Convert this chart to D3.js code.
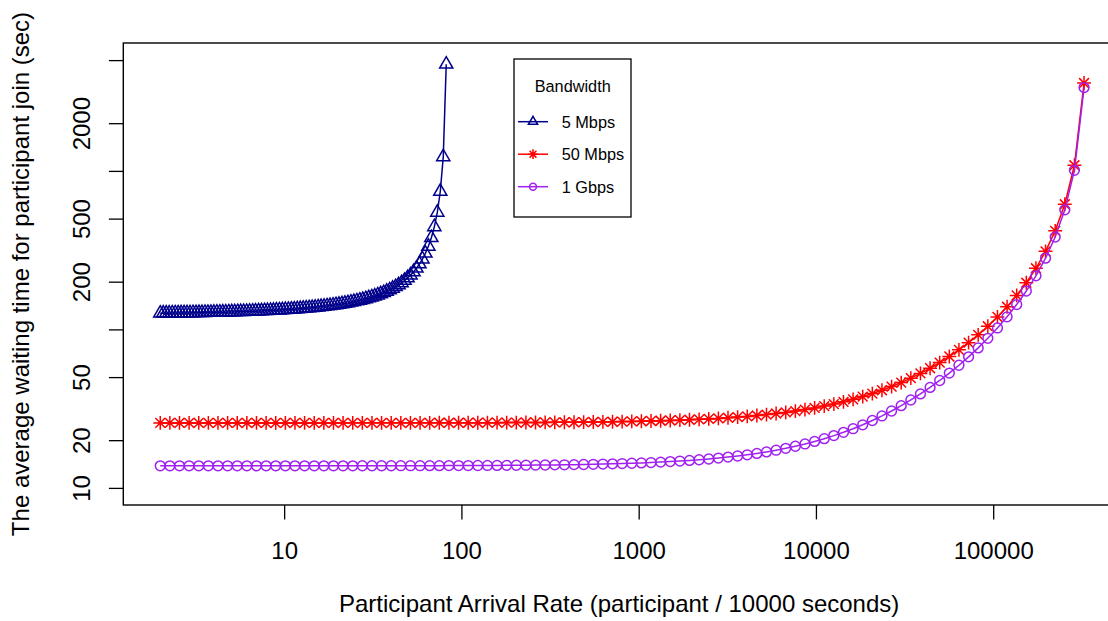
<!DOCTYPE html>
<html>
<head>
<meta charset="utf-8">
<script src="https://cdn.jsdelivr.net/npm/d3@7"></script>
<style>
  body { margin: 0; background: #fff; }
  text { font-family: "Liberation Sans", Arial, Helvetica, sans-serif; fill: #000; }
</style>
</head>
<body>
<div id="chart"></div>
<script>
// Arrival rates used for the 5 Mbps run
const xSlow = [2, 2.079, 2.161, 2.246, 2.335, 2.427, 2.523, 2.622, 2.726, 2.833,
  2.945, 3.061, 3.182, 3.308, 3.438, 3.574, 3.715, 3.861, 4.014, 4.172,
  4.337, 4.508, 4.685, 4.870, 5.062, 5.262, 5.470, 5.686, 5.910, 6.143,
  6.386, 6.637, 6.899, 7.172, 7.454, 7.749, 8.054, 8.372, 8.702, 9.046,
  9.403, 9.774, 10.16, 10.56, 10.98, 11.41, 11.86, 12.33, 12.81, 13.32,
  13.85, 14.39, 14.96, 15.55, 16.16, 16.80, 17.46, 18.15, 18.87, 19.61,
  20.39, 21.19, 22.03, 22.90, 23.80, 24.74, 25.72, 26.73, 27.79, 28.88,
  30.02, 31.21, 32.44, 33.72, 35.05, 36.43, 37.87, 39.36, 40.92, 42.53,
  44.21, 45.95, 47.76, 49.65, 51.61, 53.64, 55.76, 57.96, 60.25, 62.63,
  65.10, 67.67, 70.34, 73.11, 76.00, 78.99, 82.11];
const y5M = [126.4, 126.5, 126.5, 126.6, 126.7, 126.7, 126.8, 126.9, 127.0, 127.0,
  127.1, 127.2, 127.3, 127.4, 127.5, 127.6, 127.7, 127.8, 127.9, 128.1,
  128.2, 128.3, 128.5, 128.6, 128.8, 128.9, 129.1, 129.3, 129.4, 129.6,
  129.8, 130.0, 130.2, 130.5, 130.7, 131.0, 131.2, 131.5, 131.8, 132.1,
  132.4, 132.7, 133.1, 133.4, 133.8, 134.2, 134.6, 135.1, 135.6, 136.1,
  136.6, 137.1, 137.7, 138.3, 139.0, 139.7, 140.4, 141.2, 142.0, 142.9,
  143.8, 144.8, 145.9, 147.0, 148.3, 149.6, 151.0, 152.5, 154.1, 155.9,
  157.8, 159.9, 162.1, 164.6, 167.3, 170.2, 173.5, 177.1, 181.2, 185.7,
  190.9, 196.6, 203.3, 211.0, 219.9, 230.4, 243.1, 258.5, 277.6, 302.0,
  334.2, 378.5, 443.5, 547.3, 741.5, 1226, 4704];

// Arrival rates shared by the 50 Mbps and 1 Gbps runs
const xFast = [2, 2.266, 2.568, 2.910, 3.297, 3.736, 4.234, 4.797, 5.437, 6.161,
  6.981, 7.911, 8.963, 10.16, 11.51, 13.04, 14.78, 16.75, 18.98, 21.50,
  24.37, 27.61, 31.29, 35.45, 40.17, 45.52, 51.58, 58.45, 66.24, 75.05,
  85.05, 96.37, 109.2, 123.7, 140.2, 158.9, 180.0, 204.0, 231.2, 261.9,
  296.8, 336.3, 381.1, 431.8, 489.3, 554.5, 628.3, 712.0, 806.8, 914.2,
  1036, 1174, 1330, 1507, 1708, 1935, 2193, 2485, 2816, 3191,
  3616, 4097, 4643, 5261, 5962, 6755, 7655, 8674, 9829, 11138,
  12621, 14302, 16206, 18364, 20809, 23580, 26719, 30277, 34309, 38877,
  44053, 49919, 56566, 64097, 72632, 82303, 93262, 105680, 119750, 135690,
  153760, 174230, 197430, 223720, 253510, 287260, 325510];
const y50M = [25.70, 25.70, 25.70, 25.70, 25.70, 25.70, 25.70, 25.70, 25.70, 25.70,
  25.70, 25.70, 25.71, 25.71, 25.71, 25.71, 25.71, 25.71, 25.71, 25.71,
  25.72, 25.72, 25.72, 25.72, 25.72, 25.73, 25.73, 25.74, 25.74, 25.75,
  25.75, 25.76, 25.77, 25.78, 25.79, 25.80, 25.81, 25.83, 25.84, 25.86,
  25.88, 25.91, 25.94, 25.97, 26.00, 26.04, 26.09, 26.14, 26.20, 26.27,
  26.34, 26.43, 26.52, 26.63, 26.76, 26.90, 27.06, 27.25, 27.45, 27.69,
  27.96, 28.26, 28.61, 29.00, 29.45, 29.95, 30.53, 31.19, 31.95, 32.81,
  33.79, 34.91, 36.20, 37.67, 39.37, 41.33, 43.58, 46.19, 49.22, 52.75,
  56.88, 61.74, 67.47, 74.31, 82.51, 92.43, 104.6, 119.8, 138.9, 163.8,
  196.9, 243.1, 310.7, 418.6, 615.9, 1085, 3583];
const y1G = [13.77, 13.77, 13.77, 13.77, 13.77, 13.77, 13.77, 13.77, 13.77, 13.77,
  13.77, 13.77, 13.78, 13.78, 13.78, 13.78, 13.78, 13.78, 13.78, 13.78,
  13.78, 13.79, 13.79, 13.79, 13.79, 13.80, 13.80, 13.80, 13.81, 13.81,
  13.82, 13.83, 13.83, 13.84, 13.85, 13.86, 13.87, 13.89, 13.90, 13.92,
  13.94, 13.97, 13.99, 14.02, 14.05, 14.09, 14.14, 14.18, 14.24, 14.30,
  14.37, 14.45, 14.54, 14.65, 14.77, 14.90, 15.05, 15.22, 15.42, 15.64,
  15.89, 16.17, 16.50, 16.87, 17.29, 17.76, 18.31, 18.93, 19.64, 20.44,
  21.37, 22.42, 23.63, 25.01, 26.61, 28.44, 30.56, 33.01, 35.86, 39.17,
  43.05, 47.61, 52.99, 59.41, 67.11, 76.43, 87.87, 102.1, 120.1, 143.5,
  174.6, 217.9, 281.4, 382.7, 568.0, 1009, 3354];

const seriesNames = ["5 Mbps", "50 Mbps", "1 Gbps"];
const legendTitle = "Bandwidth";
const xTicks = [10, 100, 1000, 10000, 100000];
const yTicks = [10, 20, 50, 100, 200, 500, 1000, 2000, 5000];
// R drops the labels that would collide, so some ticks stay blank
const yTickLabels = ["10", "20", "50", "", "200", "500", "", "2000", ""];
const yLimits = [10, 5000];
const xTitle = "Participant Arrival Rate (participant / 10000 seconds)";
const yTitle = "The average waiting time for participant join (sec)";

const width = 1108;
const height = 621;
const box = {left: 123.3, top: 43, right: 1121, bottom: 505};
const tickLen = 14.4;
const r0 = 4.9; // symbol radius at cex = 1

// log axis padded by 4% on each side, like R's default xaxs = "r"
function padLog(lo, hi) {
  const a = Math.log10(lo), b = Math.log10(hi), pad = (b - a) * 0.04;
  return [Math.pow(10, a - pad), Math.pow(10, b + pad)];
}

const x = d3.scaleLog()
    .domain(padLog(d3.min(xFast), d3.max(xFast)))
    .range([box.left, box.right]);
const y = d3.scaleLog()
    .domain(padLog(yLimits[0], yLimits[1]))
    .range([box.bottom, box.top]);

// R plotting symbols: pch 2 (triangle), pch 8 (asterisk), pch 1 (circle)
function symbol(shape, s) {
  if (shape === "triangle") {
    const r = 1.5551 * s, xc = 1.3468 * s, yc = 0.7776 * s;
    return `M0,${-r}L${xc},${yc}L${-xc},${yc}Z`;
  }
  if (shape === "asterisk") {
    const a = Math.SQRT2 * s, b = s;
    return `M${-a},0H${a}M0,${-a}V${a}M${-b},${-b}L${b},${b}M${-b},${b}L${b},${-b}`;
  }
  return `M${s},0A${s},${s} 0 1,1 ${-s},0A${s},${s} 0 1,1 ${s},0Z`;
}

const series = [
  {name: seriesNames[0], xs: xSlow, ys: y5M, color: "#00008B", shape: "triangle"},
  {name: seriesNames[1], xs: xFast, ys: y50M, color: "#FF0000", shape: "asterisk"},
  {name: seriesNames[2], xs: xFast, ys: y1G, color: "#A020F0", shape: "circle"}
];

const svg = d3.create("svg")
    .attr("width", width)
    .attr("height", height)
    .attr("viewBox", [0, 0, width, height])
    .style("background", "#fff");

// x axis (no domain line, the box covers it)
svg.append("g")
    .attr("transform", `translate(0,${box.bottom})`)
    .call(d3.axisBottom(x).tickValues(xTicks).tickFormat(d3.format("d"))
        .tickSize(tickLen).tickPadding(23))
    .call(g => g.select(".domain").remove())
    .call(g => g.selectAll("line").attr("stroke", "#000").attr("stroke-width", 1.3))
    .call(g => g.selectAll("text").attr("font-size", 24).attr("font-family", null));

// y axis, labels written parallel to the axis
svg.append("g")
    .attr("transform", `translate(${box.left},0)`)
    .call(d3.axisLeft(y).tickValues(yTicks).tickFormat((d, i) => yTickLabels[i])
        .tickSize(tickLen))
    .call(g => g.select(".domain").remove())
    .call(g => g.selectAll("line").attr("stroke", "#000").attr("stroke-width", 1.3))
    .call(g => g.selectAll("text")
        .attr("x", null).attr("dy", null)
        .attr("font-size", 24).attr("font-family", null)
        .attr("text-anchor", "middle")
        .attr("transform", "translate(-33.3,0) rotate(-90)"));

// the data
const line = d3.line()
    .x(d => x(d[0]))
    .y(d => y(d[1]));

series.forEach(s => {
  const pts = s.xs.map((v, i) => [v, s.ys[i]]);
  const g = svg.append("g");
  g.append("path")
      .datum(pts)
      .attr("fill", "none")
      .attr("stroke", s.color)
      .attr("stroke-width", 1.5)
      .attr("d", line);
  g.selectAll(".pt")
    .data(pts)
    .join("path")
      .attr("class", "pt")
      .attr("transform", d => `translate(${x(d[0])},${y(d[1])})`)
      .attr("d", symbol(s.shape, r0))
      .attr("fill", "none")
      .attr("stroke", s.color)
      .attr("stroke-width", 1.5);
});

// plot frame
svg.append("rect")
    .attr("x", box.left)
    .attr("y", box.top)
    .attr("width", box.right - box.left)
    .attr("height", box.bottom - box.top)
    .attr("fill", "none")
    .attr("stroke", "#000")
    .attr("stroke-width", 1.4);

// axis titles
svg.append("text")
    .attr("x", (box.left + box.right) / 2 - 3)
    .attr("y", 612)
    .attr("text-anchor", "middle")
    .attr("font-size", 24)
    .text(xTitle);

svg.append("text")
    .attr("transform", `translate(29,${(box.top + box.bottom) / 2}) rotate(-90)`)
    .attr("text-anchor", "middle")
    .attr("font-size", 24)
    .text(yTitle);

// legend
const legend = svg.append("g").attr("transform", "translate(514,59)");
legend.append("rect")
    .attr("width", 117)
    .attr("height", 158)
    .attr("fill", "#fff")
    .attr("stroke", "#000")
    .attr("stroke-width", 1.3);
legend.append("text")
    .attr("x", 58.7)
    .attr("y", 32.5)
    .attr("text-anchor", "middle")
    .attr("font-size", 16.3)
    .text(legendTitle);

const row = legend.selectAll(".row")
  .data(series)
  .join("g")
    .attr("class", "row")
    .attr("transform", (d, i) => `translate(0,${62.7 + i * 32.5})`);
row.append("line")
    .attr("x1", 4).attr("x2", 34)
    .attr("stroke", d => d.color)
    .attr("stroke-width", 1.5);
row.append("path")
    .attr("transform", "translate(19,0)")
    .attr("d", d => symbol(d.shape, r0 * 0.7))
    .attr("fill", "none")
    .attr("stroke", d => d.color)
    .attr("stroke-width", 1.5);
row.append("text")
    .attr("x", 47.7)
    .attr("y", 5.8)
    .attr("font-size", 16.3)
    .text(d => d.name);

document.getElementById("chart").appendChild(svg.node());
</script>
</body>
</html>
